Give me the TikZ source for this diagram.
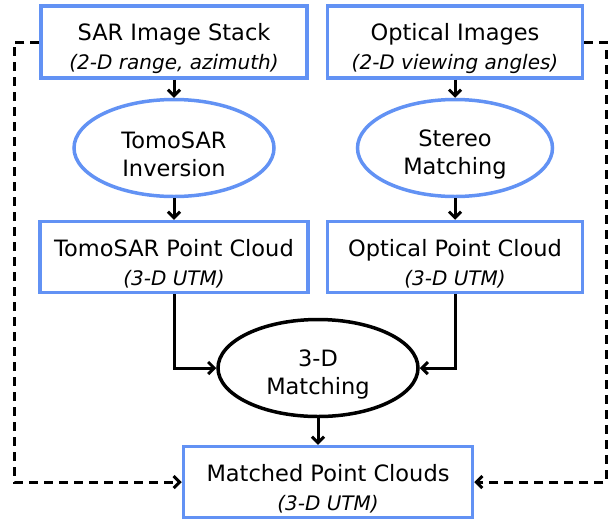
\documentclass[tikz,border=0pt]{standalone}
\usepackage{fontspec}
\setmainfont{DejaVu Sans}
\usetikzlibrary{shapes.geometric,arrows.meta}
\definecolor{boxblue}{RGB}{98,146,244}
% box label: name over an italic line
\newcommand{\boxtext}[2]{\rule{0pt}{30pt}#1\\[1pt]{\fontsize{20}{24}\selectfont\itshape #2}}
% ellipse label: two lines
\newcommand{\celltext}[2]{\rule{0pt}{29pt}#1\\#2}
\begin{document}
\begin{tikzpicture}[x=1pt,y=-1pt,
    databox/.style={draw=boxblue,line width=3.5pt,rectangle,minimum height=72pt,
      inner sep=0pt,align=center,font=\fontsize{22.5}{28}\selectfont},
    procell/.style={draw=boxblue,line width=3.5pt,ellipse,minimum width=200pt,
      minimum height=97pt,inner sep=0pt,align=center,font=\fontsize{22.5}{28}\selectfont},
    flow/.style={line width=3pt,-{Straight Barb[length=6pt,width=12pt]}},
    side/.style={flow,dash pattern=on 9pt off 6pt}]
    \useasboundingbox (0,0) rectangle (612,520);
    % inputs
    \node[databox,minimum width=266pt] (sar) at (174,42) {\boxtext{SAR Image Stack}{(2-D range, azimuth)}};
    \node[databox,minimum width=255pt] (opt) at (455,42) {\boxtext{Optical Images}{(2-D viewing angles)}};
    % processing
    \node[procell] (inv) at (174,148) {\celltext{TomoSAR}{Inversion}};
    \node[procell,minimum width=195pt] (stereo) at (455,148) {\celltext{Stereo}{Matching}};
    % point clouds
    \node[databox,minimum width=268pt,minimum height=71pt] (tomopc) at (174,257) {\boxtext{TomoSAR Point Cloud}{(3-D UTM)}};
    \node[databox,minimum width=255pt,minimum height=71pt] (optpc) at (455,257) {\boxtext{Optical Point Cloud}{(3-D UTM)}};
    \node[procell,draw=black] (match) at (318,368) {\celltext{3-D}{Matching}};
    \node[databox,minimum width=289pt,minimum height=71pt] (fused) at (328,482) {\boxtext{Matched Point Clouds}{(3-D UTM)}};
    % connectors
    \draw[flow] (sar) -- (inv);
    \draw[flow] (opt) -- (stereo);
    \draw[flow] (inv) -- (tomopc);
    \draw[flow] (stereo) -- (optpc);
    \draw[flow] (tomopc.south) |- (match.west);
    \draw[flow] (optpc.south) |- (match.east);
    \draw[flow] (match) -- (match |- fused.north);
    \draw[side] (sar.west) -- ++(-25,0) |- (fused.west);
    \draw[side] (opt.east) -- ++(22,0) |- (fused.east);
\end{tikzpicture}
\end{document}
